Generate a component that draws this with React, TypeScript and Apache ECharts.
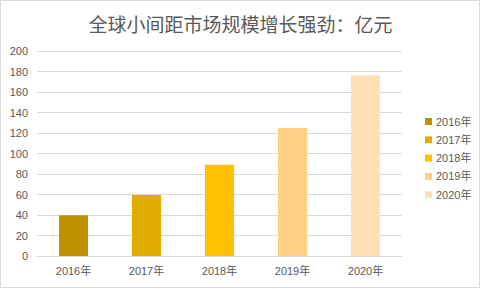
import React, { useEffect, useRef } from "react";
import * as echarts from "echarts";

const categories = ["2016年", "2017年", "2018年", "2019年", "2020年"];
const values = [39.7, 59.5, 89, 125, 176];
const colors = ["#BF9000", "#E2AC00", "#FFC000", "#FFD084", "#FFDFB4"];
const yTicks = { min: 0, max: 200, interval: 20 };
const titleText = "全球小间距市场规模增长强劲：亿元";

const FONT = "'Liberation Sans', 'Noto Sans CJK SC', sans-serif";

export default function App() {
  const ref = useRef<HTMLDivElement>(null);
  useEffect(() => {
    if (!ref.current) return;
    const chart = echarts.init(ref.current, undefined, { renderer: "svg" });
    const series = categories.map((name, i) => ({
      name,
      type: "bar",
      stack: "all",
      barWidth: 29,
      itemStyle: { color: colors[i] },
      data: categories.map((_, j) => (j === i ? values[i] : "-")),
    }));
    chart.setOption({
      animation: false,
      backgroundColor: "#fff",
      title: {
        text: titleText,
        left: "center",
        top: 9,
        textStyle: {
          fontSize: 19,
          fontWeight: "normal",
          color: "#595959",
          fontFamily: "'Noto Sans CJK SC', sans-serif",
        },
      },
      legend: {
        orient: "vertical",
        left: 420,
        top: 111,
        itemWidth: 7,
        itemHeight: 7,
        itemGap: 7.3,
        icon: "rect",
        textStyle: { fontSize: 11, color: "#595959", fontFamily: FONT, padding: [0, 0, 0, -1] },
        data: categories,
      },
      grid: { left: 37, right: 79, top: 51, bottom: 33, containLabel: false },
      xAxis: {
        type: "category",
        data: categories,
        axisLine: { lineStyle: { color: "#d9d9d9" } },
        axisTick: { show: false },
        axisLabel: { color: "#595959", fontSize: 11, fontFamily: FONT, margin: 9 },
      },
      yAxis: {
        type: "value",
        min: yTicks.min,
        max: yTicks.max,
        interval: yTicks.interval,
        axisLine: { show: false },
        axisTick: { show: false },
        splitLine: { lineStyle: { color: "#d9d9d9" } },
        axisLabel: { color: "#595959", fontSize: 11, fontFamily: FONT, margin: 9 },
      },
      graphic: [
        {
          type: "rect",
          shape: { x: 0.5, y: 0.5, width: 479, height: 287 },
          style: { fill: "none", stroke: "#d9d9d9", lineWidth: 1 },
          silent: true,
        },
      ],
      series,
    });
    return () => chart.dispose();
  }, []);
  return (
    <div
      ref={ref}
      style={{ position: "fixed", left: 0, top: 0, width: 481, height: 289 }}
    />
  );
}
